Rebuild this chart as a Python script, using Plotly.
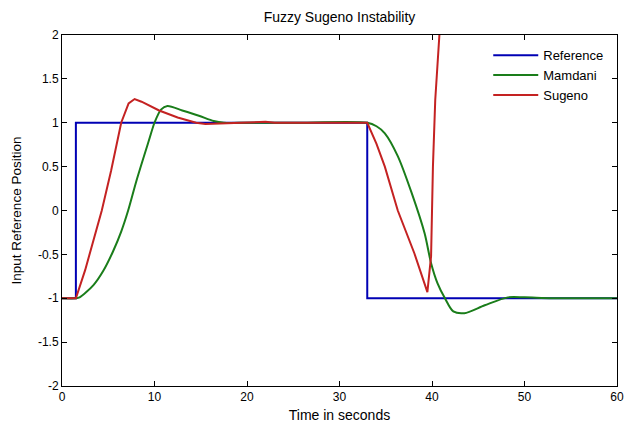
import plotly.graph_objects as go

# Data
ref_t = [0, 1.5, 1.5, 33, 33, 60]
ref_y = [-1, -1, 1, 1, -1, -1]

mamdani_t = [0, 1.5, 1.9, 3.4, 4.45, 5.5, 6.4, 7.15, 8.05, 9.4, 10.0, 10.7, 11.4, 13.0,
             14.8, 16.4, 17.5, 20.0, 25.0, 33.0, 34.0, 34.9, 36.3, 37.8, 39.2,
             39.9, 40.6, 41.4, 42.3, 43.5, 45.7, 48.2, 50.0, 53.0, 60.0]
mamdani_y = [-1, -1, -0.99, -0.85, -0.69, -0.47, -0.24, 0.0, 0.34, 0.8, 1.0, 1.15, 1.19, 1.14,
             1.08, 1.02, 1.0, 1.0, 1.0, 1.0, 0.96, 0.88, 0.62, 0.2, -0.26,
             -0.6, -0.83, -1.0, -1.15, -1.17, -1.08, -0.99, -0.99, -1.0, -1.0]

sugeno_t = [0, 1.5, 2.5, 3.4, 4.3, 5.3, 6.4, 7.2, 7.85, 8.6, 10.5, 12.5, 14.5, 15.5,
            17.0, 18.5, 20.5, 22.0, 23.0, 33.0, 34.0, 34.9, 36.3, 38.1, 39.5, 39.9,
            40.1, 40.35, 40.8, 41.2]
sugeno_y = [-1, -1, -0.68, -0.35, 0.0, 0.45, 1.0, 1.22, 1.27, 1.24, 1.14, 1.06, 1.0, 0.985,
            0.99, 1.0, 1.01, 1.01, 1.0, 1.0, 0.76, 0.5, 0.0, -0.49, -0.93, -0.52,
            0.5, 1.26, 2.0, 3.0]

x_ticks = [0, 10, 20, 30, 40, 50, 60]
y_ticks = [-2, -1.5, -1, -0.5, 0, 0.5, 1, 1.5, 2]
y_tick_text = ["-2", "-1.5", "-1", "-0.5", "0", "0.5", "1", "1.5", "2"]

FONT = "Liberation Sans, Arial"

fig = go.Figure()
fig.add_trace(go.Scatter(x=ref_t, y=ref_y, mode="lines", name="Reference",
                         line=dict(color="#0000b4", width=2)))
fig.add_trace(go.Scatter(x=mamdani_t, y=mamdani_y, mode="lines", name="Mamdani",
                         line=dict(color="#1a7d1a", width=2, shape="spline", smoothing=0.8)))
fig.add_trace(go.Scatter(x=sugeno_t, y=sugeno_y, mode="lines", name="Sugeno",
                         line=dict(color="#c42222", width=2)))

axis_common = dict(showline=True, linecolor="black", linewidth=1, mirror="ticks",
                   ticks="inside", ticklen=5, tickcolor="black", showgrid=False,
                   zeroline=False, automargin=False, ticklabeloverflow="allow",
                   tickfont=dict(family=FONT, size=12, color="black"))

fig.update_layout(
    width=624, height=426,
    margin=dict(l=62, r=7, t=35, b=40),
    paper_bgcolor="white", plot_bgcolor="white",
    font=dict(family=FONT, size=12, color="black"),
    title=dict(text="Fuzzy Sugeno Instability", x=0.5, xref="paper", xanchor="center",
               y=1 - 17 / 426, yanchor="middle", font=dict(size=14)),
    xaxis=dict(range=[0, 60], tickvals=x_ticks, ticktext=[str(v) for v in x_ticks],
               title=dict(text="Time in seconds", standoff=6, font=dict(size=14)), **axis_common),
    yaxis=dict(range=[-2, 2], tickvals=y_ticks, ticktext=y_tick_text,
               title=dict(text="Input Reference Position", standoff=13, font=dict(size=13.5)),
               **axis_common),
    legend=dict(x=0.768, y=0.985, xanchor="left", yanchor="top", bgcolor="rgba(255,255,255,0)",
                borderwidth=0, itemwidth=45, tracegroupgap=0,
                font=dict(size=13)),
    showlegend=True,
)

fig.write_html("out.html", config={"displayModeBar": False})

# remove the browser's default body margin so the figure sits at the page origin
with open("out.html", "r", encoding="utf-8") as f:
    html = f.read()
html = html.replace("<body>", '<body style="margin:0;padding:0;">', 1)
with open("out.html", "w", encoding="utf-8") as f:
    f.write(html)
